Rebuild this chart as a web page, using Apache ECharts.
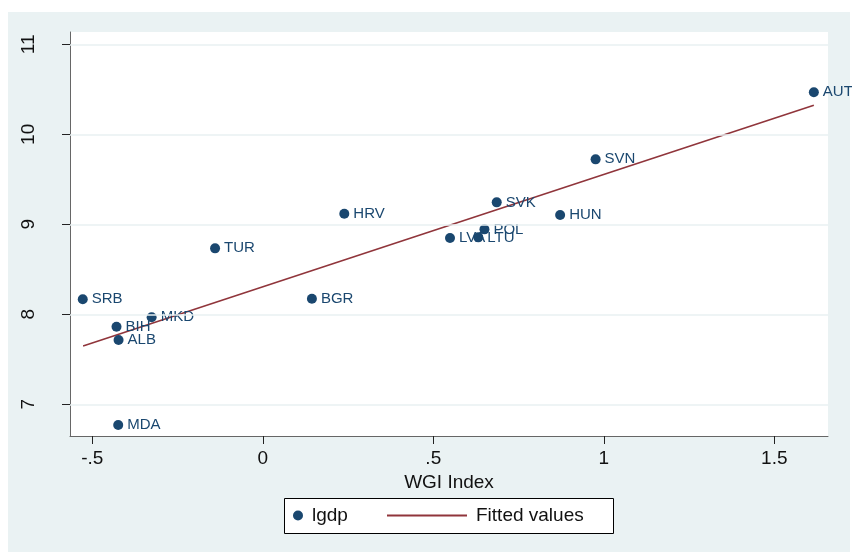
<!DOCTYPE html>
<html>
<head>
<meta charset="utf-8">
<script src="https://cdn.jsdelivr.net/npm/echarts@6/dist/echarts.min.js"></script>
<style>
html,body{margin:0;padding:0;background:#ffffff;}
#bg{position:absolute;left:8px;top:12px;width:842px;height:540px;background:#eaf2f3;}
#chart{position:absolute;left:0;top:0;width:852px;height:552px;}
</style>
</head>
<body>
<div id="bg"></div>
<div id="chart"></div>
<script>
// Data
const countries = ['SRB','BIH','ALB','MKD','MDA','TUR','BGR','HRV','LVA','LTU','POL','SVK','HUN','SVN','AUT'];
const wgi  = [-0.528,-0.429,-0.423,-0.326,-0.424,-0.140,0.144,0.239,0.549,0.632,0.650,0.686,0.872,0.976,1.616];
const lgdp = [8.167,7.862,7.714,7.967,6.770,8.733,8.173,9.118,8.848,8.855,8.944,9.244,9.103,9.722,10.467];
const fitX = [-0.527, 1.616];
const fitY = [7.648, 10.322];
const xTicks = [-0.5, 0, 0.5, 1, 1.5];
const xTickLabels = ['-.5','0','.5','1','1.5'];
const yTicks = [7, 8, 9, 10, 11];
const yTickLabels = ['7','8','9','10','11'];

const navy = '#1a476f';
const maroon = '#90353b';
const FONT = '"Liberation Sans", Arial, sans-serif';

const scatterData = countries.map((c, i) => ({ value: [wgi[i], lgdp[i]], name: c }));
const fitData = fitX.map((x, i) => [x, fitY[i]]);

const chart = echarts.init(document.getElementById('chart'), null, { renderer: 'canvas' });
chart.setOption({
  animation: false,
  backgroundColor: 'transparent',
  textStyle: { fontFamily: FONT },
  grid: {
    left: 70, top: 32, right: 24, bottom: 116,
    show: true, backgroundColor: '#ffffff', borderWidth: 0
  },
  xAxis: {
    type: 'value',
    min: -0.5654, max: 1.6575,
    name: 'WGI Index',
    nameLocation: 'middle',
    nameGap: 31,
    nameTextStyle: { color: '#111', fontSize: 19, fontFamily: FONT },
    axisLine: { show: true, onZero: false, lineStyle: { color: '#666', width: 1 } },
    axisTick: { show: true, length: 8, lineStyle: { color: '#222' }, customValues: xTicks },
    axisLabel: {
      color: '#111', fontSize: 19, margin: 13, fontFamily: FONT,
      customValues: xTicks,
      formatter: v => { const k = xTicks.findIndex(t => Math.abs(t - v) < 1e-9); return k >= 0 ? xTickLabels[k] : ''; }
    },
    splitLine: { show: false }
  },
  yAxis: {
    type: 'value',
    min: 6.648, max: 11.137,
    axisLine: { show: true, onZero: false, lineStyle: { color: '#666', width: 1 } },
    axisTick: { show: true, length: 8, lineStyle: { color: '#222' }, customValues: yTicks },
    axisLabel: {
      color: '#111', fontSize: 19, margin: 32, rotate: 90, fontFamily: FONT,
      customValues: yTicks,
      formatter: v => { const k = yTicks.findIndex(t => Math.abs(t - v) < 1e-9); return k >= 0 ? yTickLabels[k] : ''; }
    },
    splitLine: { show: false }
  },
  legend: [
    {
      data: ['lgdp'],
      left: 293, top: 506,
      itemWidth: 10, itemHeight: 10, itemGap: 0,
      textStyle: { color: '#111', fontSize: 19, fontFamily: FONT, padding: [0,0,0,4] },
      icon: 'circle', padding: 0, selectedMode: false
    },
    {
      data: [{ name: 'Fitted values', icon: 'rect' }],
      left: 387, top: 506,
      itemWidth: 80, itemHeight: 2, itemGap: 0,
      textStyle: { color: '#111', fontSize: 19, fontFamily: FONT, padding: [0,0,0,4] },
      padding: 0, selectedMode: false
    }
  ],
  graphic: [
    {
      type: 'rect', left: 284, top: 498, z: -1,
      shape: { width: 329, height: 35 },
      style: { fill: '#ffffff', stroke: '#000000', lineWidth: 1 }
    }
  ],
  series: [
    {
      name: 'grid',
      type: 'line',
      data: [],
      z: 1,
      silent: true,
      markLine: {
        silent: true,
        symbol: 'none',
        label: { show: false },
        lineStyle: { color: '#e8f0f2', width: 1.5, type: 'solid' },
        data: yTicks.map(v => ({ yAxis: v }))
      }
    },
    {
      name: 'Fitted values',
      type: 'line',
      data: fitData,
      z: 3,
      symbol: 'none',
      lineStyle: { color: maroon, width: 1.6 },
      itemStyle: { color: maroon }
    },
    {
      name: 'lgdp',
      type: 'scatter',
      data: scatterData,
      z: 4,
      symbol: 'circle',
      symbolSize: 10,
      itemStyle: { color: navy, opacity: 1 },
      label: {
        show: true, position: 'right', distance: 4,
        formatter: p => p.name,
        color: navy, fontSize: 15, fontFamily: FONT
      }
    }
  ]
});
</script>
</body>
</html>
